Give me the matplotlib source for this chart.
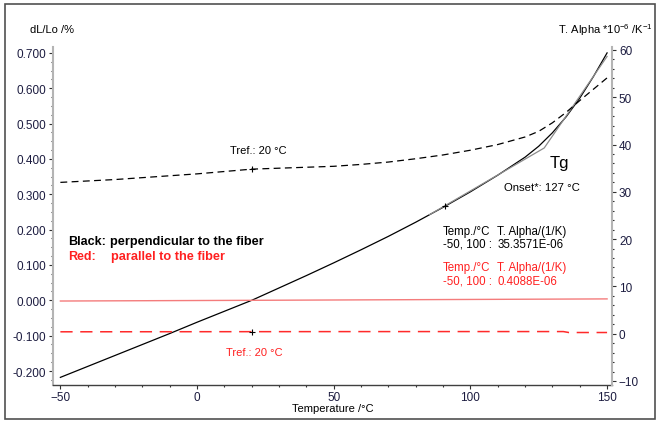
import matplotlib
matplotlib.use('Agg')
import matplotlib.pyplot as plt
from matplotlib.patches import Rectangle
from matplotlib.ticker import MultipleLocator, FormatStrFormatter

plt.rcParams['font.family'] = ['Liberation Sans', 'DejaVu Sans']
plt.rcParams['mathtext.default'] = 'regular'

# data
temp = [-50, -40, -30, -20, -10, 0, 10, 20, 30, 40, 50, 60, 70, 80, 90, 100,
        110, 120, 125, 130, 135, 140, 145, 150]
# black: perpendicular to the fiber, dL/Lo in %
dl_perp = [-0.218, -0.187, -0.156, -0.125, -0.094, -0.062, -0.031, 0.000,
           0.035, 0.070, 0.106, 0.143, 0.181, 0.221, 0.263, 0.307,
           0.354, 0.405, 0.436, 0.474, 0.519, 0.572, 0.633, 0.700]
# black: technical alpha *1e-6 /K
alpha_perp = [32.0, 32.3, 32.6, 33.0, 33.4, 33.8, 34.3, 34.8, 35.0, 35.2,
              35.4, 35.8, 36.3, 37.0, 37.8, 38.8, 40.0, 41.6, 42.8, 44.6,
              46.8, 49.3, 51.7, 54.1]

# red: parallel to the fiber
temp_par = [-50, 20, 150]
dl_par = [-0.002, 0.000, 0.004]
temp_alpha_par = [-50, 0, 50, 100, 134, 136, 150]
alpha_par = [0.40, 0.42, 0.44, 0.45, 0.45, 0.25, 0.25]

# onset construction (two tangents meeting at 127 C)
tan_temp = [85, 127, 150]
tan_dl = [0.242, 0.431, 0.690]

tref = 20
tref_alpha = [34.8, 0.45]
mark_t, mark_dl = 90.8, 0.268

fig = plt.figure(figsize=(6.65, 4.27), dpi=100)
ax = fig.add_axes([53 / 665, 41 / 427, 559 / 665, 338 / 427])
ax2 = ax.twinx()

ax.plot(temp, dl_perp, color='black', lw=0.9)
ax.plot(tan_temp, tan_dl, color='#8c8c8c', lw=0.9)
ax.plot(temp_par, dl_par, color='#f47c7c', lw=1.0)
ax.plot([mark_t], [mark_dl], marker='+', color='black', ms=5, mew=0.8)

ax2.plot(temp, alpha_perp, color='black', lw=0.9, dashes=(5.5, 3.5))
ax2.plot(temp_alpha_par, alpha_par, color='#ff2a2a', lw=1.1, dashes=(8, 5))
ax2.plot([tref, tref], tref_alpha, ls='none', marker='+', color='black', ms=5, mew=0.8)

ax.set_xlim(-52.7, 151.8)
ax.set_ylim(-0.2396, 0.7167)
ax2.set_ylim(-10.85, 60.63)

ax.xaxis.set_major_locator(MultipleLocator(50))
ax.xaxis.set_minor_locator(MultipleLocator(10))
ax.yaxis.set_major_locator(MultipleLocator(0.1))
ax.yaxis.set_minor_locator(MultipleLocator(0.025))
ax.yaxis.set_major_formatter(FormatStrFormatter('%.3f'))
ax2.yaxis.set_major_locator(MultipleLocator(10))
ax2.yaxis.set_minor_locator(MultipleLocator(2))

for a in (ax, ax2):
    a.spines['top'].set_visible(False)
    a.tick_params(which='major', direction='out', length=3, width=0.8,
                  color='#303030', labelsize=8.5, labelcolor='#1c1c40', pad=2)
    a.tick_params(which='minor', direction='out', length=1.5, width=0.8,
                  color='#303030')
ax.tick_params(axis='x', which='major', pad=1.5)
ax.spines['right'].set_visible(False)
ax2.spines['left'].set_visible(False)
ax2.spines['bottom'].set_visible(False)
ax.spines['left'].set_color('#b4b4b4')
ax.spines['left'].set_linewidth(1.5)
ax2.spines['right'].set_color('#b4b4b4')
ax2.spines['right'].set_linewidth(1.5)
ax.spines['bottom'].set_color('#404040')
ax.spines['bottom'].set_linewidth(1.0)

# axis titles
fig.text(52 / 665, 1 - 30 / 427, 'dL/Lo /%', ha='center', va='center', fontsize=8)
fig.text(653 / 665, 1 - 30 / 427, 'T. Alpha *10$^{-6}$ /K$^{-1}$', ha='right',
         va='center', fontsize=8)
fig.text(333 / 665, 1 - 409 / 427, 'Temperature /°C', ha='center', va='center', fontsize=8)

# annotations
ax.text(22.4, 0.425, 'Tref.: 20 °C', ha='center', va='center', fontsize=8)
ax.text(21.0, -0.146, 'Tref.: 20 °C', ha='center', va='center', fontsize=8, color='#ff2020')
ax.text(132.4, 0.390, 'Tg', ha='center', va='center', fontsize=12)
ax.text(126.2, 0.320, 'Onset*: 127 °C', ha='center', va='center', fontsize=8.2)

ax.text(-47.3, 0.169, 'Black:', ha='left', va='center', fontsize=9, fontweight='bold')
ax.text(-31.9, 0.169, 'perpendicular to the fiber', ha='left', va='center',
        fontsize=9.2, fontweight='bold')
ax.text(-47.3, 0.126, 'Red:', ha='left', va='center', fontsize=9, fontweight='bold',
        color='#ff2020')
ax.text(-31.5, 0.126, 'parallel to the fiber', ha='left', va='center',
        fontsize=9.2, fontweight='bold', color='#ff2020')

for y1, y2, val, col in [(0.197, 0.160, '35.3571E-06', 'black'),
                         (0.095, 0.055, '0.4088E-06', '#ff2020')]:
    ax.text(90.0, y1, 'Temp./°C', ha='left', va='center', fontsize=8.3, color=col)
    ax.text(109.8, y1, 'T. Alpha/(1/K)', ha='left', va='center', fontsize=8.3, color=col)
    ax.text(90.0, y2, '-50, 100 :', ha='left', va='center', fontsize=8.3, color=col)
    ax.text(109.8, y2, val, ha='left', va='center', fontsize=8.3, color=col)

# outer frame
fig.patches.append(Rectangle((5 / 665, 7 / 427), 650 / 665, 415 / 427,
                             transform=fig.transFigure, fill=False,
                             edgecolor='#505050', lw=1.2))

fig.savefig('out.png', dpi=100)
